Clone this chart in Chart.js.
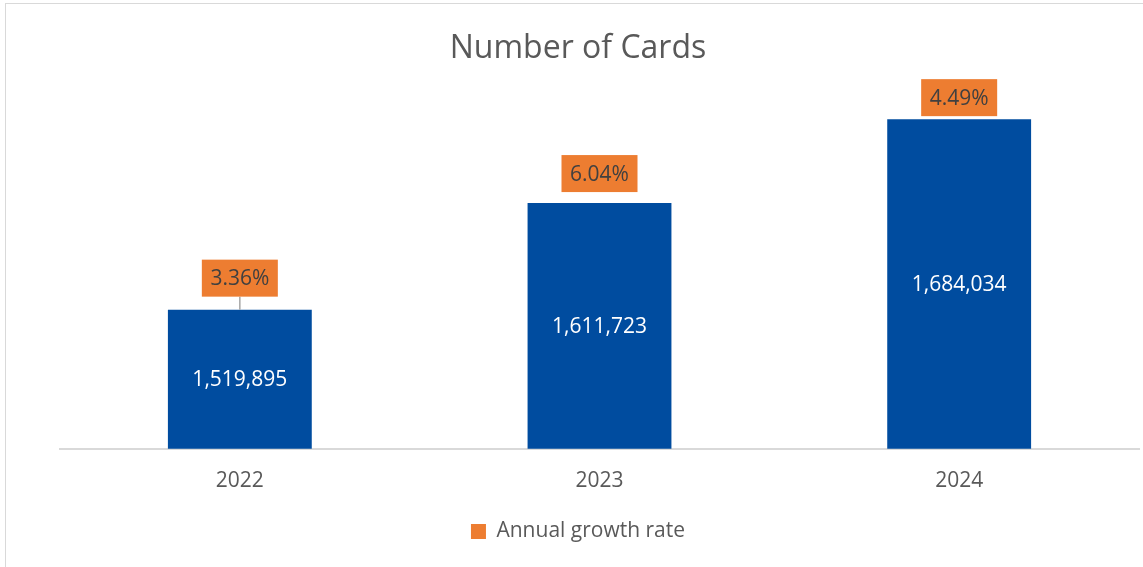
<!DOCTYPE html>
<html>
<head>
<meta charset="utf-8">
<script src="https://cdn.jsdelivr.net/npm/chart.js@4.4.1/dist/chart.umd.min.js"></script>
<style>
  html, body { margin: 0; padding: 0; background: #ffffff; overflow: hidden; }
  #frame { position: absolute; left: 5px; top: 3px; width: 1160px; height: 620px;
           border: 1px solid #d9d9d9; box-sizing: border-box; }
  #c { position: absolute; left: 0; top: 0; }
</style>
</head>
<body>
<div id="frame"></div>
<canvas id="c" width="1143" height="567"></canvas>
<script>
// Yearly totals and their growth over the previous year
const years = ['2022', '2023', '2024'];
const cardCounts = [1519895, 1611723, 1684034];
const growthRates = [3.36, 6.04, 4.49];

const BLUE = '#004C9F';
const ORANGE = '#ED7D31';
const GREY_TEXT = '#595959';
const FONT = "'Open Sans', 'Noto Sans', sans-serif";

// Draws the count inside each bar and the growth-rate callout above it
const barLabels = {
  id: 'barLabels',
  afterDatasetsDraw(chart, args, opts) {
    const ctx = chart.ctx;
    const bars = chart.getDatasetMeta(0).data;
    const growth = chart.data.datasets[1].data;
    const floor = chart.chartArea.bottom;
    ctx.save();
    ctx.textAlign = 'center';
    ctx.textBaseline = 'middle';
    bars.forEach((bar, i) => {
      const x = bar.x, y = bar.y;
      // bars start below the axis minimum, so use the visible bottom
      const base = Number.isFinite(bar.base) ? Math.min(bar.base, floor) : floor;
      ctx.font = `21px ${FONT}`;
      ctx.fillStyle = '#ffffff';
      ctx.fillText(cardCounts[i].toLocaleString('en-US'), x, (y + base) / 2 + 1);

      // growth callout
      const gap = opts.gaps[i];
      const w = opts.boxWidth, h = opts.boxHeight;
      const bottom = y - gap;
      if (gap > 12) {
        ctx.strokeStyle = '#a6a6a6';
        ctx.lineWidth = 1.5;
        ctx.beginPath();
        ctx.moveTo(x, bottom);
        ctx.lineTo(x, y);
        ctx.stroke();
      }
      ctx.fillStyle = ORANGE;
      ctx.fillRect(x - w / 2, bottom - h, w, h);
      ctx.fillStyle = '#404040';
      ctx.font = `21px ${FONT}`;
      ctx.fillText(growth[i].toFixed(2) + '%', x, bottom - h / 2 + 1);
    });
    ctx.restore();
  }
};

new Chart(document.getElementById('c'), {
  data: {
    labels: years,
    datasets: [
      {
        type: 'bar',
        label: 'Number of Cards',
        data: cardCounts,
        backgroundColor: BLUE,
        categoryPercentage: 0.8,
        barPercentage: 0.5,
        yAxisID: 'y',
        order: 2
      },
      {
        type: 'line',
        label: 'Annual growth rate',
        data: growthRates,
        backgroundColor: ORANGE,
        borderColor: ORANGE,
        borderWidth: 0,
        showLine: false,
        pointRadius: 0,
        pointHoverRadius: 0,
        yAxisID: 'g',
        order: 1
      }
    ]
  },
  options: {
    responsive: false,
    animation: false,
    events: [],
    layout: { padding: { left: 17, right: 4, top: 30, bottom: 15 } },
    scales: {
      x: {
        grid: { display: false },
        border: { display: true, color: '#d9d9d9', width: 2 },
        ticks: { color: GREY_TEXT, font: { family: FONT, size: 21 }, padding: 12 }
      },
      y: {
        min: 1400000,
        max: 1720000,
        grid: { display: false },
        border: { display: false },
        ticks: { display: false },
        afterFit(scale) { scale.width = 43; }
      },
      g: { display: false, min: 0, max: 10 }
    },
    plugins: {
      title: {
        display: true,
        text: 'Number of Cards',
        color: GREY_TEXT,
        font: { family: FONT, size: 32, weight: 'normal' },
        padding: { top: 0, bottom: 9 }
      },
      legend: {
        position: 'bottom',
        labels: {
          filter: item => item.datasetIndex === 1,
          color: GREY_TEXT,
          font: { family: FONT, size: 21 },
          boxWidth: 15,
          boxHeight: 15,
          padding: 15
        }
      },
      tooltip: { enabled: false },
      barLabels: { gaps: [13, 11, 3], boxWidth: 76, boxHeight: 37 }
    }
  },
  plugins: [barLabels]
});
</script>
</body>
</html>
